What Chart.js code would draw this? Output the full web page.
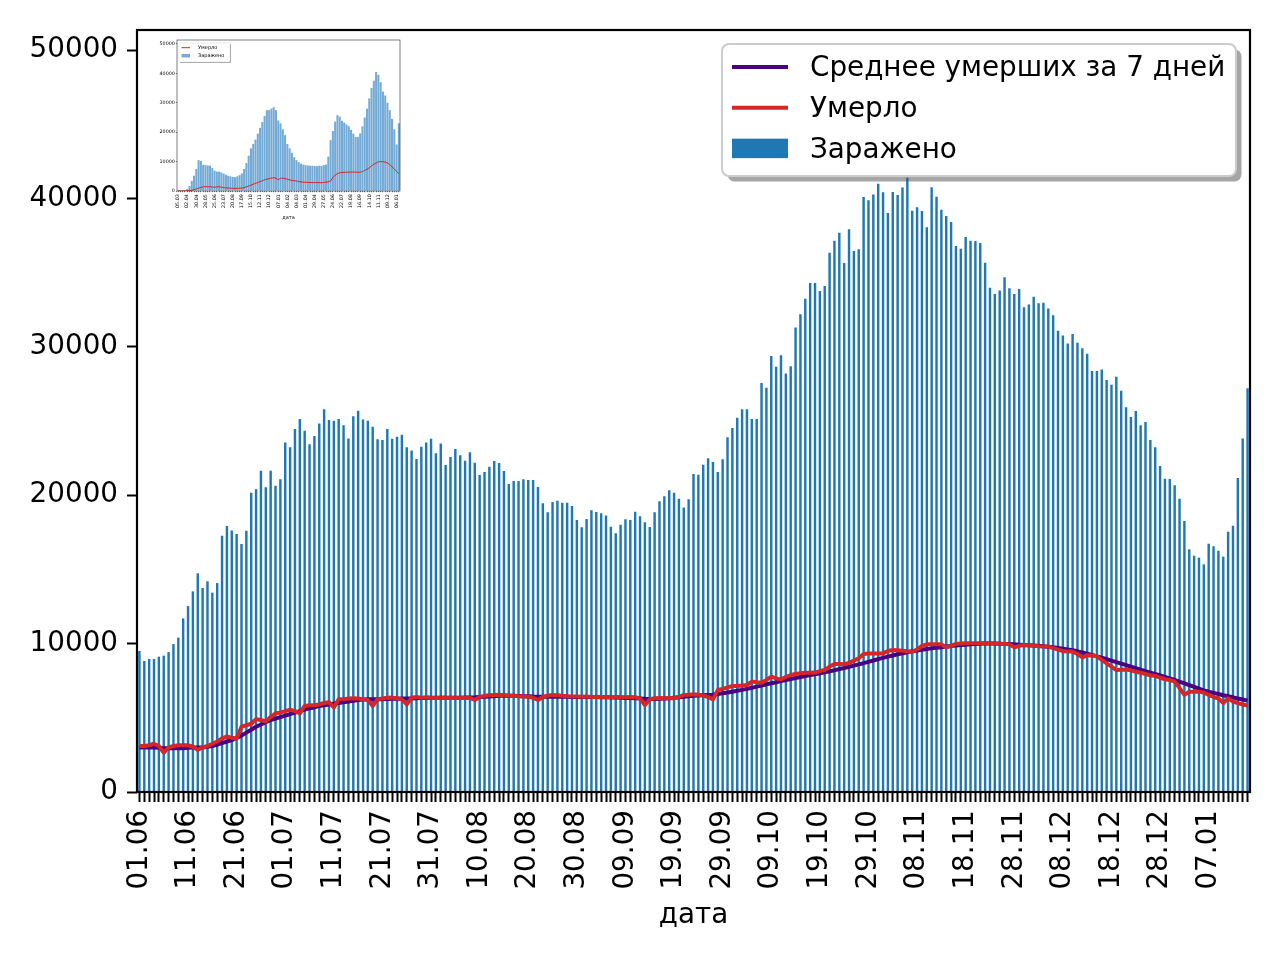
<!DOCTYPE html>
<html>
<head>
<meta charset="utf-8">
<title>Заражено и умерло</title>
<script src="https://cdn.jsdelivr.net/npm/chart.js@4.4.1/dist/chart.umd.min.js"></script>
<style>
  body { margin: 0; background: #fff; }
  #wrap { position: relative; width: 1280px; height: 960px; }
  #main { position: absolute; left: 0; top: 0; }
  #inset { position: absolute; left: 150px; top: 35px; }
</style>
</head>
<body>
<div id="wrap">
  <canvas id="main" width="1280" height="960"></canvas>
  <canvas id="inset" width="255" height="190"></canvas>
</div>
<script>
(function(){
	'use strict';

	// main chart: daily values from 01.06.2021
	var startDay = '2021-06-01';
	var xLabelStep = 10;
	var yTicks = [0, 10000, 20000, 30000, 40000, 50000];

	var cases = [
		9500, 8830, 8960, 8960, 9120, 9190, 9430, 9970, 10400, 11700,
		12530, 13520, 14740, 13750, 14200, 13430, 14080, 17270, 17920, 17630,
		17390, 16710, 17610, 20170, 20400, 21650, 20530, 21650, 20640, 21070,
		23560, 23230, 24460, 25130, 24350, 23430, 23990, 24840, 25790, 25070,
		25020, 25130, 24710, 23830, 25320, 25690, 25110, 25020, 24620, 23770,
		23720, 24460, 23810, 23940, 24080, 23230, 23020, 22440, 23270, 23560,
		23810, 22820, 23490, 22040, 22570, 23110, 22690, 22330, 22890, 22190,
		21370, 21570, 21920, 22300, 22170, 21630, 20750, 20960, 20960, 21070,
		21020, 21020, 20550, 19450, 18850, 19540, 19630, 19500, 19500, 19270,
		18330, 17840, 18400, 18980, 18870, 18780, 18640, 17880, 17430, 18010,
		18380, 18330, 18890, 18580, 18170, 17860, 18850, 19590, 19930, 20330,
		20170, 19760, 19180, 19720, 21430, 21380, 22050, 22490, 22240, 21560,
		22420, 23900, 24530, 25220, 25790, 25790, 25130, 25130, 27560, 27250,
		29380, 28660, 29430, 28210, 28690, 31310, 32190, 33240, 34300, 34300,
		33760, 34100, 36340, 37150, 37690, 35650, 37920, 36460, 36570, 40090,
		39870, 40270, 40990, 40410, 39020, 40430, 40230, 40740, 41400, 39170,
		39400, 39150, 38050, 40750, 40120, 39240, 38810, 38410, 36790, 36610,
		37400, 37150, 37130, 37000, 35670, 33980, 33560, 33800, 34680, 33940,
		33560, 33890, 32660, 32860, 33380, 32930, 32970, 32590, 32120, 31080,
		30770, 30230, 30860, 30280, 29900, 29540, 28370, 28370, 28480, 27760,
		27450, 27990, 27040, 25920, 25270, 25670, 24710, 24930, 23720, 23230,
		21970, 21110, 21090, 20670, 19770, 18260, 16350, 15920, 15790, 15340,
		16730, 16560, 16260, 15860, 17530, 17940, 21160, 23830, 27200
	];

	var deaths = [
		3100, 3100, 3150, 3250, 3100, 2650, 3000, 3100, 3150, 3150,
		3150, 3050, 2850, 3000, 3100, 3250, 3400, 3600, 3750, 3650,
		3600, 4400, 4500, 4600, 4900, 4850, 4750, 5050, 5300, 5350,
		5450, 5550, 5450, 5300, 5800, 5850, 5850, 5900, 6000, 6050,
		5700, 6250, 6250, 6300, 6320, 6300, 6250, 6200, 5800, 6250,
		6300, 6350, 6360, 6320, 6250, 5900, 6350, 6400, 6350, 6380,
		6350, 6330, 6350, 6360, 6340, 6350, 6330, 6350, 6340, 6200,
		6400, 6480, 6520, 6540, 6560, 6530, 6500, 6480, 6450, 6430,
		6420, 6350, 6200, 6400, 6500, 6540, 6520, 6480, 6450, 6440,
		6430, 6420, 6430, 6410, 6420, 6400, 6410, 6400, 6390, 6400,
		6390, 6400, 6390, 6300, 5860, 6250, 6320, 6330, 6320, 6330,
		6320, 6400, 6540, 6560, 6580, 6560, 6500, 6400, 6240, 6870,
		6950, 7050, 7140, 7150, 7180, 7210, 7440, 7400, 7370, 7550,
		7770, 7650, 7590, 7750, 7880, 7950, 8000, 8040, 8040, 8050,
		8150, 8220, 8450, 8630, 8620, 8610, 8700, 8850, 9010, 9300,
		9340, 9340, 9330, 9340, 9500, 9570, 9550, 9520, 9480, 9450,
		9600, 9850, 9950, 9950, 9950, 9950, 9750, 9850, 9980, 10000,
		10020, 10030, 10030, 10020, 10020, 10010, 10000, 9990, 9980, 9950,
		9750, 9850, 9900, 9880, 9850, 9820, 9800, 9800, 9700, 9600,
		9500, 9460, 9460, 9300, 9070, 9220, 9200, 9150, 8900, 8670,
		8450, 8220, 8240, 8250, 8200, 8100, 8040, 7950, 7870, 7820,
		7700, 7600, 7550, 7440, 7000, 6540, 6760, 6760, 6760, 6700,
		6540, 6400, 6300, 6000, 6310, 6100, 5990, 5900, 5830
	];

	var deathsAvg7 = [
		3000, 3000, 3000, 3000, 2980, 2950, 2950, 2950, 2950, 2950,
		2980, 3000, 3000, 3000, 3050, 3100, 3200, 3300, 3400, 3500,
		3650, 3800, 4000, 4200, 4400, 4550, 4700, 4850, 4950, 5050,
		5150, 5250, 5350, 5450, 5550, 5650, 5700, 5800, 5850, 5900,
		5950, 6000, 6050, 6100, 6150, 6200, 6230, 6250, 6250, 6250,
		6250, 6270, 6280, 6290, 6300, 6300, 6300, 6320, 6330, 6340,
		6350, 6350, 6350, 6350, 6350, 6350, 6350, 6360, 6370, 6380,
		6400, 6420, 6440, 6460, 6480, 6490, 6490, 6480, 6470, 6460,
		6450, 6430, 6420, 6420, 6420, 6420, 6420, 6420, 6420, 6410,
		6410, 6400, 6400, 6400, 6400, 6390, 6380, 6370, 6360, 6350,
		6340, 6330, 6320, 6300, 6280, 6270, 6270, 6280, 6300, 6320,
		6350, 6380, 6420, 6450, 6480, 6500, 6520, 6540, 6560, 6600,
		6650, 6700, 6760, 6820, 6880, 6950, 7020, 7100, 7170, 7250,
		7330, 7400, 7470, 7540, 7610, 7680, 7750, 7820, 7880, 7940,
		8000, 8060, 8130, 8200, 8280, 8360, 8440, 8520, 8600, 8680,
		8770, 8860, 8950, 9040, 9120, 9200, 9280, 9350, 9420, 9480,
		9530, 9580, 9630, 9680, 9720, 9760, 9800, 9840, 9870, 9900,
		9930, 9950, 9970, 9990, 10000, 10000, 10000, 9990, 9980, 9970,
		9950, 9930, 9910, 9890, 9870, 9850, 9820, 9790, 9750, 9710,
		9660, 9610, 9550, 9480, 9400, 9320, 9230, 9140, 9050, 8950,
		8850, 8750, 8650, 8550, 8450, 8350, 8250, 8150, 8050, 7950,
		7850, 7750, 7650, 7550, 7440, 7320, 7200, 7080, 6960, 6850,
		6760, 6680, 6600, 6520, 6450, 6380, 6300, 6230, 6160
	];

	// inset: whole pandemic, weekly from 05.03.2020
	var insetStart = '2020-03-05';
	var insetLabelStep = 4;
	var insetCases = [
		10, 30, 60, 200, 700, 1700, 3400, 5200, 7500, 10500,
		10200, 8900, 8800, 8700, 8600, 7800, 6900, 6600, 6600, 6300,
		5900, 5500, 5200, 5000, 4800, 4700, 5000, 5400, 6000, 7500,
		9500, 12000, 14500, 16000, 17500, 19500, 21500, 23500, 25500, 27500,
		27500, 28000, 28500, 27500, 24000, 23000, 21000, 19000, 16000, 14500,
		13000, 11500, 10500, 9800, 9300, 9000, 8800, 8700, 8600, 8600,
		8500, 8400, 8600, 8500, 8800, 9000, 11700, 17300, 20400, 23600,
		25800, 25300, 23900, 23300, 22600, 22000, 20800, 19500, 18400, 18400,
		19600, 22000, 25000, 28000, 31500, 35000, 37500, 40500, 39500, 37000,
		33800, 32500, 30000, 27500, 24500, 21000, 15800, 23000
	];
	var insetDeaths = [
		0, 0, 5, 15, 50, 120, 250, 450, 700, 950,
		1200, 1400, 1500, 1450, 1450, 1350, 1300, 1400, 1450, 1300,
		1150, 1050, 1000, 950, 900, 900, 900, 950, 1000, 1150,
		1400, 1700, 2000, 2300, 2600, 2900, 3200, 3500, 3800, 4000,
		4200, 4400, 4500, 4400, 3800, 4300, 4400, 4200, 4000, 3800,
		3600, 3500, 3400, 3200, 3100, 3000, 2950, 2900, 2900, 2850,
		2850, 2900, 2850, 2800, 2900, 3000, 3100, 3400, 4600, 5400,
		5900, 6200, 6300, 6350, 6350, 6400, 6450, 6450, 6400, 6350,
		6400, 6600, 7000, 7400, 7900, 8500, 9100, 9500, 9950, 10000,
		10000, 9800, 9500, 9000, 8200, 7500, 6600, 5900
	];

	function pad(n){ return (n < 10 ? '0' : '') + n; }

	function dayLabels(start, n, step){
		var t0 = new Date(start + 'T00:00:00Z').getTime();
		var out = [];
		for (var i = 0; i < n; i++) {
			var d = new Date(t0 + i * step * 86400000);
			out.push(pad(d.getUTCDate()) + '.' + pad(d.getUTCMonth() + 1));
		}
		return out;
	}

	Chart.defaults.font.family = '"DejaVu Sans", sans-serif';
	Chart.defaults.color = '#000';

	var frame = {
		id: 'frame',
		afterDraw: function(chart, args, o){
			var a = chart.chartArea, ctx = chart.ctx;
			ctx.save();
			ctx.strokeStyle = '#000';
			ctx.lineWidth = o.width;
			ctx.strokeRect(a.left, a.top, a.right - a.left, a.bottom - a.top);
			ctx.restore();
		}
	};

	// matplotlib-like legend box with shadow
	var boxLegend = {
		id: 'boxLegend',
		afterDraw: function(chart, args, o){
			var ctx = chart.ctx;
			ctx.save();
			ctx.fillStyle = 'rgba(77,77,77,0.5)';
			ctx.beginPath();
			ctx.roundRect(o.x + o.shadow, o.y + o.shadow, o.w, o.h, o.r);
			ctx.fill();
			ctx.fillStyle = '#fff';
			ctx.strokeStyle = '#ccc';
			ctx.lineWidth = o.border;
			ctx.beginPath();
			ctx.roundRect(o.x, o.y, o.w, o.h, o.r);
			ctx.fill();
			ctx.stroke();
			ctx.font = o.size + 'px "DejaVu Sans"';
			ctx.textBaseline = 'middle';
			chart.data.datasets.forEach(function(ds, i){
				var y = o.firstRow + i * o.rowH;
				if (ds.type === 'line') {
					ctx.strokeStyle = ds.borderColor;
					ctx.lineWidth = ds.borderWidth;
					ctx.beginPath();
					ctx.moveTo(o.handleX, y);
					ctx.lineTo(o.handleX + o.handleW, y);
					ctx.stroke();
				} else {
					ctx.fillStyle = ds.backgroundColor;
					ctx.fillRect(o.handleX, y - o.boxH / 2, o.handleW, o.boxH);
				}
				ctx.fillStyle = '#000';
				ctx.fillText(ds.label, o.textX, y + o.textDy);
			});
			ctx.restore();
		}
	};

	// keep the plot box exactly where it is in the picture
	function fixWidth(w){
		return function(s){ s.width = w; };
	}
	function fixHeight(h){
		return function(s){ s.height = h; s.paddingLeft = 0; s.paddingRight = 0; };
	}

	var labels = dayLabels(startDay, cases.length, 1);

	new Chart(document.getElementById('main'), {
		type: 'bar',
		data: {
			labels: labels,
			datasets: [
				{
					type: 'line',
					label: 'Среднее умерших за 7 дней',
					data: deathsAvg7,
					borderColor: '#4b0082',
					borderWidth: 4,
					pointRadius: 0,
					borderJoinStyle: 'round',
					order: 1
				},
				{
					type: 'line',
					label: 'Умерло',
					data: deaths,
					borderColor: '#d62728',
					borderWidth: 4,
					pointRadius: 0,
					borderJoinStyle: 'round',
					order: 0
				},
				{
					type: 'bar',
					label: 'Заражено',
					data: cases,
					backgroundColor: '#1f77b4',
					barPercentage: 0.5,
					categoryPercentage: 1.0,
					order: 2
				}
			]
		},
		options: {
			responsive: false,
			animation: false,
			events: [],
			layout: { padding: { left: 0, top: 30, right: 30, bottom: 0 } },
			scales: {
				x: {
					offset: true,
					grid: { drawOnChartArea: false, tickLength: 10, tickWidth: 2, tickColor: '#000', offset: false },
					border: { display: false },
					ticks: {
						autoSkip: false, minRotation: 90, maxRotation: 90, padding: 8,
						font: { size: 27.8 }, color: '#000',
						callback: function(v, i){ return i % xLabelStep === 0 ? this.getLabelForValue(v) : ''; }
					},
					title: { display: true, text: 'дата', font: { size: 27.8, lineHeight: 1.2 }, color: '#000', padding: { top: 0, bottom: 28 } },
					afterFit: fixHeight(168)
				},
				y: {
					min: 0,
					max: 51350,
					afterBuildTicks: function(s){ s.ticks = yTicks.map(function(v){ return { value: v }; }); },
					grid: { drawOnChartArea: false, tickLength: 10, tickWidth: 2, tickColor: '#000' },
					border: { display: false },
					ticks: { padding: 9, font: { size: 27.8 }, color: '#000', callback: function(v){ return String(v); } },
					afterFit: fixWidth(137)
				}
			},
			plugins: {
				legend: { display: false },
				tooltip: { enabled: false },
				frame: { width: 2.2 },
				boxLegend: {
					x: 722, y: 44, w: 514, h: 132, r: 7, shadow: 5.5, border: 2,
					size: 27.8, handleX: 732, handleW: 56, textX: 810,
					firstRow: 67, rowH: 40.7, boxH: 19.5, textDy: 2
				}
			}
		},
		plugins: [frame, boxLegend]
	});

	var insetLabels = dayLabels(insetStart, insetCases.length, 7);

	new Chart(document.getElementById('inset'), {
		type: 'bar',
		data: {
			labels: insetLabels,
			datasets: [
				{
					type: 'line',
					label: 'Умерло',
					data: insetDeaths,
					borderColor: '#d62728',
					borderWidth: 1,
					pointRadius: 0,
					order: 0
				},
				{
					type: 'bar',
					label: 'Заражено',
					data: insetCases,
					backgroundColor: '#73aad6',
					barPercentage: 0.9,
					categoryPercentage: 1.0,
					order: 1
				}
			]
		},
		options: {
			responsive: false,
			animation: false,
			events: [],
			layout: { padding: { left: 0, top: 5, right: 5, bottom: 0 } },
			scales: {
				x: {
					offset: true,
					grid: { drawOnChartArea: false, tickLength: 1.2, tickWidth: 0.5, tickColor: '#000', offset: false },
					border: { display: false },
					ticks: {
						autoSkip: false, minRotation: 90, maxRotation: 90, padding: 2,
						font: { size: 4.8 }, color: '#000',
						callback: function(v, i){ return i % insetLabelStep === 0 ? this.getLabelForValue(v) : ''; }
					},
					title: { display: true, text: 'дата', font: { size: 5, lineHeight: 1.2 }, color: '#000', padding: { top: 0, bottom: 4 } },
					afterFit: fixHeight(34)
				},
				y: {
					min: 0,
					max: 51350,
					afterBuildTicks: function(s){ s.ticks = yTicks.map(function(v){ return { value: v }; }); },
					grid: { drawOnChartArea: false, tickLength: 1.2, tickWidth: 0.5, tickColor: '#000' },
					border: { display: false },
					ticks: { padding: 1, font: { size: 4.8 }, color: '#000', callback: function(v){ return String(v); } },
					afterFit: fixWidth(27)
				}
			},
			plugins: {
				legend: { display: false },
				tooltip: { enabled: false },
				frame: { width: 0.5 },
				boxLegend: {
					x: 29, y: 8, w: 51, h: 19, r: 1, shadow: 1, border: 0.4,
					size: 5, handleX: 31.5, handleW: 8.5, textX: 48,
					firstRow: 12.7, rowH: 8, boxH: 3.5, textDy: 0.3
				}
			}
		},
		plugins: [frame, boxLegend]
	});
})();
</script>
</body>
</html>
